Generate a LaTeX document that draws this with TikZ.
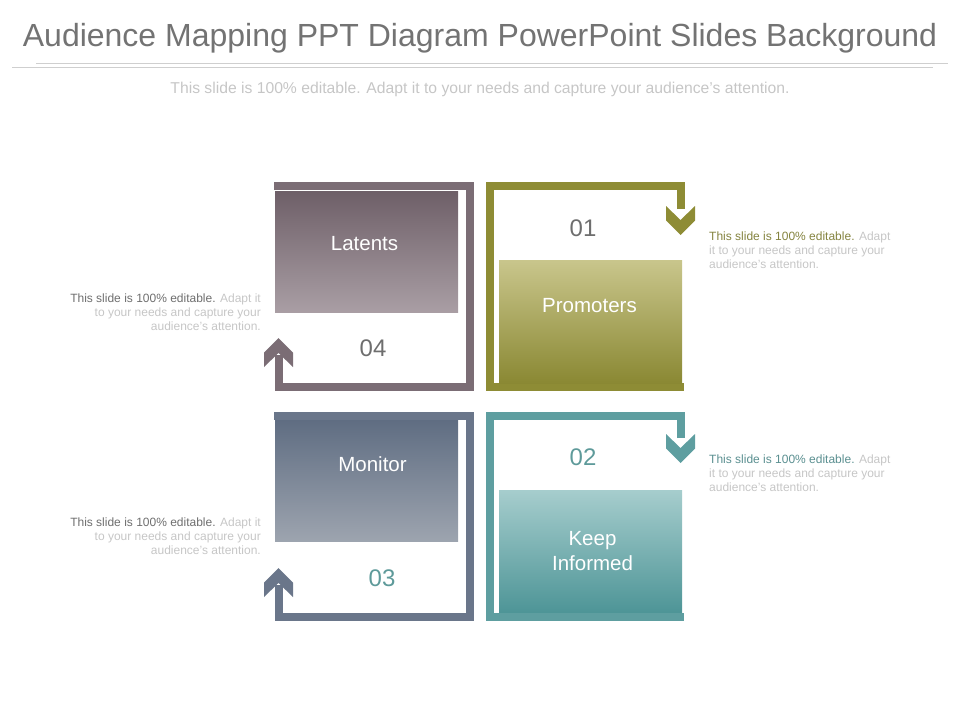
\documentclass[tikz,border=0pt]{standalone}
\usepackage{fontspec}
\setmainfont{Liberation Sans}
\definecolor{latentsframe}{HTML}{7B6D75}
\definecolor{latentstop}{HTML}{6E5F68}
\definecolor{latentsbot}{HTML}{A99EA4}
\definecolor{promoframe}{HTML}{8E8C35}
\definecolor{promotop}{HTML}{C9C68C}
\definecolor{promobot}{HTML}{8A8833}
\definecolor{monframe}{HTML}{6A768A}
\definecolor{montop}{HTML}{5F6D82}
\definecolor{monbot}{HTML}{9DA4AF}
\definecolor{keepframe}{HTML}{5E9EA0}
\definecolor{keeptop}{HTML}{A6CDCD}
\definecolor{keepbot}{HTML}{4E9597}
\definecolor{titlegray}{HTML}{737373}
\definecolor{numgray}{HTML}{6E6E6E}
\definecolor{numteal}{HTML}{5E9A9A}
\definecolor{notegray}{HTML}{C6C6C6}
\definecolor{noteolive}{HTML}{84833F}
\definecolor{noteteal}{HTML}{5A8F90}
\definecolor{rulegray}{HTML}{CFCFCF}
\begin{document}
\begin{tikzpicture}
[x=1pt,y=-1pt,
  boxdecorate/.style={shape=rectangle,inner sep=0pt,minimum width=183pt},%
  labeldecorate/.style={text=white,align=center,font=\fontsize{20.5}{25}\selectfont},%
  framedecorate/.style={line width=8pt,line join=miter},%
  numdecorate/.style={font=\fontsize{24}{28}\selectfont},%
  notedecorate/.style={inner sep=0pt,text=notegray,font=\fontsize{12}{14}\selectfont}]
\useasboundingbox (0,0) rectangle (960,720);
% title
\node (title) at (480,38) [text=titlegray,font=\fontsize{32}{36}\selectfont] {Audience Mapping PPT Diagram PowerPoint Slides Background};
\draw [rulegray,line width=1.2pt] (36,63.5) -- (948,63.5);
\draw [rulegray,line width=1.2pt] (12,67.5) -- (933,67.5);
\node (subtitle) at (480,89) [text=notegray,font=\fontsize{15.7}{18}\selectfont] {This slide is 100\% editable. Adapt it to your needs and capture your audience's attention.};
% frames
\draw [framedecorate,latentsframe] (278.5,355) -- (278.5,387) -- (469.5,387) -- (469.5,186) -- (274,186);
\fill [latentsframe] (278.5,338) -- (293,352.5) -- (293,367) -- (278.5,353) -- (264,367) -- (264,352.5) -- cycle;
\draw [framedecorate,promoframe] (680.5,209) -- (680.5,186) -- (489.5,186) -- (489.5,387) -- (684,387);
\fill [promoframe] (680.5,235) -- (666,220.5) -- (666,206) -- (680.5,220) -- (695,206) -- (695,220.5) -- cycle;
\draw [framedecorate,monframe] (278.5,585) -- (278.5,617) -- (469.5,617) -- (469.5,415.5) -- (274,415.5);
\fill [monframe] (278.5,568) -- (293,582.5) -- (293,597) -- (278.5,583) -- (264,597) -- (264,582.5) -- cycle;
\draw [framedecorate,keepframe] (680.5,438) -- (680.5,415.5) -- (489.5,415.5) -- (489.5,617) -- (684,617);
\fill [keepframe] (680.5,463) -- (666,448.5) -- (666,434) -- (680.5,448) -- (695,434) -- (695,448.5) -- cycle;
% boxes
\node (latents) at (366.5,251.5) [boxdecorate,minimum height=121pt,top color=latentstop,bottom color=latentsbot] {};
\node [labeldecorate] at ([xshift=-2pt,yshift=7.5pt]latents.center) {Latents};
\node (promoters) at (590.5,321.5) [boxdecorate,minimum height=123pt,top color=promotop,bottom color=promobot] {};
\node [labeldecorate] at ([xshift=-1pt,yshift=15.5pt]promoters.center) {Promoters};
\node (monitor) at (366.5,480.5) [boxdecorate,minimum height=121pt,top color=montop,bottom color=monbot] {};
\node [labeldecorate] at ([xshift=6pt,yshift=16.5pt]monitor.center) {Monitor};
\node (keep) at (590.5,551) [boxdecorate,minimum height=122pt,top color=keeptop,bottom color=keepbot] {};
\node [labeldecorate] at ([xshift=2pt]keep.center) {Keep\\Informed};
% numbers
\node (n1) at (583,228) [numdecorate,text=numgray] {01};
\node (n2) at (583,457) [numdecorate,text=numteal] {02};
\node (n3) at (382,578) [numdecorate,text=numteal] {03};
\node (n4) at (373,348) [numdecorate,text=numgray] {04};
% notes
\node (note1) at (709,232) [notedecorate,anchor=north west,align=left] {\textcolor{noteolive}{This slide is 100\% editable.} Adapt\\it to your needs and capture your\\audience's attention.};
\node (note2) at (709,455) [notedecorate,anchor=north west,align=left] {\textcolor{noteteal}{This slide is 100\% editable.} Adapt\\it to your needs and capture your\\audience's attention.};
\node (note3) at (261,518) [notedecorate,anchor=north east,align=right] {\textcolor{numgray}{This slide is 100\% editable.} Adapt it\\to your needs and capture your\\audience's attention.};
\node (note4) at (261,294) [notedecorate,anchor=north east,align=right] {\textcolor{numgray}{This slide is 100\% editable.} Adapt it\\to your needs and capture your\\audience's attention.};
\end{tikzpicture}
\end{document}
